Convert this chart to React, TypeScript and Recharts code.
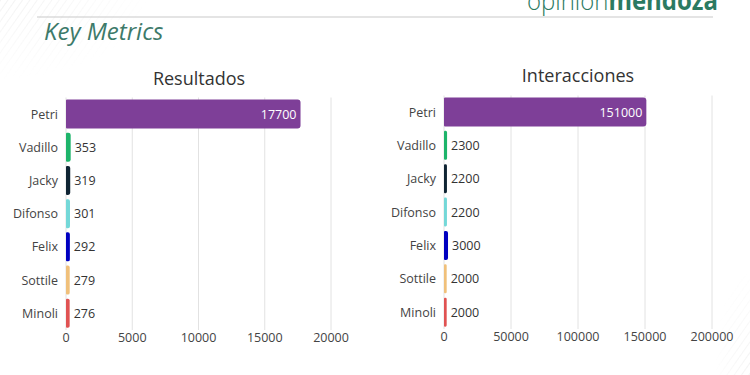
import React from 'react';
import { BarChart, Bar, XAxis, YAxis, CartesianGrid, Cell, LabelList } from 'recharts';

const candidates = ['Petri', 'Vadillo', 'Jacky', 'Difonso', 'Felix', 'Sottile', 'Minoli'];
const resultados = [17700, 353, 319, 301, 292, 279, 276];
const interacciones = [151000, 2300, 2200, 2200, 3000, 2000, 2000];
const barColors = ['#7e3f98', '#1db46a', '#0f2433', '#74d8d8', '#0000c0', '#f0c07a', '#e05252'];

const resultadosTicks = [0, 5000, 10000, 15000, 20000];
const interaccionesTicks = [0, 50000, 100000, 150000, 200000];

const FONT = '"Open Sans", sans-serif';

const resultadosData = candidates.map((name, i) => ({ name, value: resultados[i] }));
const interaccionesData = candidates.map((name, i) => ({ name, value: interacciones[i] }));

// big bar gets its label inside (white), the small ones get it right after the bar
const makeLabel = (max: number) => (props: any) => {
  const { x, y, width, height, value } = props;
  const inside = value === max;
  return (
    <text
      x={inside ? x + width - 4 : x + width + 4}
      y={y + height / 2}
      textAnchor={inside ? 'end' : 'start'}
      dominantBaseline="central"
      fill={inside ? '#ffffff' : '#333333'}
      fontSize={12.5}
      fontFamily={FONT}
    >
      {value}
    </text>
  );
};

function MetricChart({ data, ticks, width, margin, yWidth }: any) {
  const max = Math.max(...data.map((d: any) => d.value));
  return (
    <BarChart
      width={width}
      height={375}
      data={data}
      layout="vertical"
      margin={margin}
      barSize={29}
    >
      <CartesianGrid stroke="#e2e2e2" horizontal={false} />
      <XAxis
        type="number"
        domain={[ticks[0], ticks[ticks.length - 1]]}
        ticks={ticks}
        height={20}
        axisLine={false}
        tickLine={false}
        tickSize={0}
        tickMargin={3}
        interval={0}
        tick={{ fill: '#444', fontSize: 12.5, fontFamily: FONT }}
      />
      <YAxis
        type="category"
        dataKey="name"
        width={yWidth}
        axisLine={false}
        tickLine={false}
        interval={0}
        tick={{ fill: '#444', fontSize: 12.5, fontFamily: FONT }}
      />
      <Bar dataKey="value" radius={[1, 3, 3, 1]} isAnimationActive={false}>
        {data.map((_: any, i: number) => (
          <Cell key={`c-${i}`} fill={barColors[i]} />
        ))}
        <LabelList dataKey="value" content={makeLabel(max)} />
      </Bar>
    </BarChart>
  );
}

export default function App() {
  return (
    <div
      style={{
        position: 'fixed',
        left: 0,
        top: 0,
        width: 750,
        height: 375,
        overflow: 'hidden',
        background: '#ffffff',
        fontFamily: FONT,
      }}
    >
      <svg width={750} height={375} style={{ position: 'absolute', left: 0, top: 0 }}>
        <defs>
          <pattern id="hatch" width="6" height="6" patternUnits="userSpaceOnUse" patternTransform="rotate(35)">
            <line x1="0" y1="0" x2="0" y2="6" stroke="#e6e6e6" strokeWidth="1" />
          </pattern>
          <radialGradient id="fadeTL" cx="0" cy="0" r="1">
            <stop offset="0" stopColor="#fff" stopOpacity="1" />
            <stop offset="1" stopColor="#fff" stopOpacity="0" />
          </radialGradient>
          <mask id="maskTL">
            <rect x="0" y="0" width="150" height="80" fill="url(#fadeTL)" />
          </mask>
          <radialGradient id="fadeBR" cx="1" cy="1" r="1">
            <stop offset="0" stopColor="#fff" stopOpacity="1" />
            <stop offset="1" stopColor="#fff" stopOpacity="0" />
          </radialGradient>
          <mask id="maskBR">
            <rect x="715" y="270" width="35" height="105" fill="url(#fadeBR)" />
          </mask>
        </defs>
        <rect x="0" y="0" width="150" height="80" fill="url(#hatch)" mask="url(#maskTL)" />
        <rect x="715" y="270" width="35" height="105" fill="url(#hatch)" mask="url(#maskBR)" />

        <line x1={37} x2={713} y1={17} y2={17} stroke="#c9c9c9" strokeWidth={1} />
        <text x={527} y={10} fontSize={26} fill="#2b7a62" fontFamily={FONT} textLength={191} lengthAdjust="spacingAndGlyphs">
          <tspan fontWeight={300}>opinion</tspan>
          <tspan fontWeight={700}>mendoza</tspan>
        </text>
        <text x={44} y={40} fontSize={24} fontStyle="italic" fill="#3d7a6a" fontFamily={FONT}>
          Key Metrics
        </text>
        <text x={199} y={85} fontSize={18} textAnchor="middle" fill="#333" fontFamily={FONT}>
          Resultados
        </text>
        <text x={578} y={82} fontSize={18} textAnchor="middle" fill="#333" fontFamily={FONT}>
          Interacciones
        </text>
      </svg>

      <div style={{ position: 'absolute', left: 0, top: 0 }}>
        <MetricChart
          data={resultadosData}
          ticks={resultadosTicks}
          width={370}
          yWidth={66}
          margin={{ top: 97.5, right: 39, bottom: 25, left: 0 }}
        />
      </div>
      <div style={{ position: 'absolute', left: 370, top: 0 }}>
        <MetricChart
          data={interaccionesData}
          ticks={interaccionesTicks}
          width={380}
          yWidth={74}
          margin={{ top: 95.5, right: 38, bottom: 26, left: 0 }}
        />
      </div>
    </div>
  );
}
